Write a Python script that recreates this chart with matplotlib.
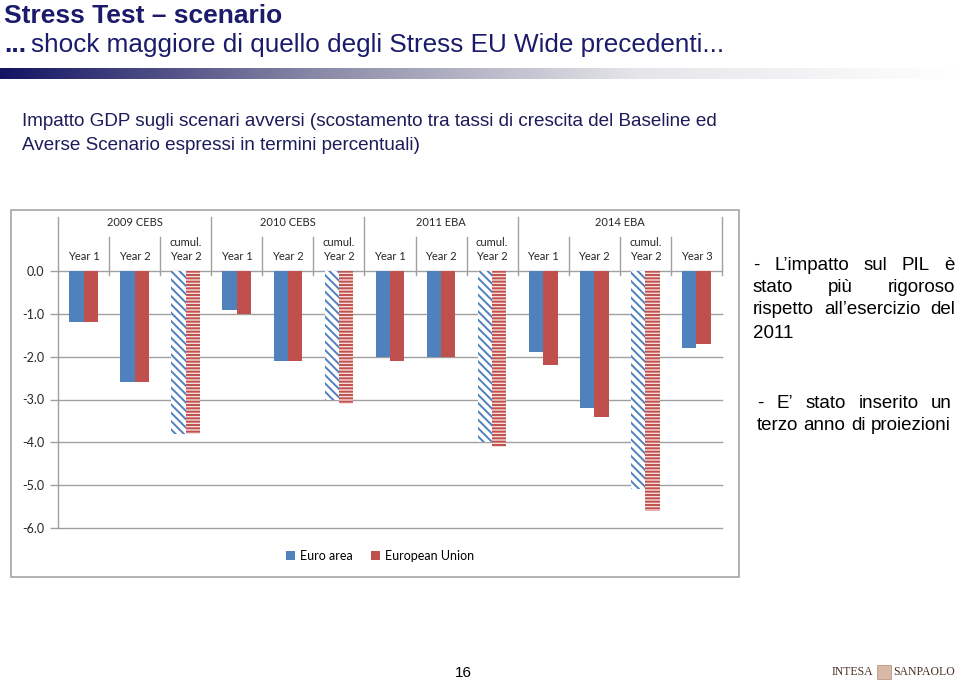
import numpy as np
import matplotlib.pyplot as plt
from matplotlib.patches import Patch, Rectangle

# Data (GDP impact, adverse vs baseline, percentage points)
groups = ['2009 CEBS', '2010 CEBS', '2011 EBA', '2014 EBA']
group_sizes = [3, 3, 3, 4]
categories = ['Year 1', 'Year 2', 'cumul.\nYear 2',
              'Year 1', 'Year 2', 'cumul.\nYear 2',
              'Year 1', 'Year 2', 'cumul.\nYear 2',
              'Year 1', 'Year 2', 'cumul.\nYear 2', 'Year 3']
euro_area = [-1.2, -2.6, -3.8, -0.9, -2.1, -3.0, -2.0, -2.0, -4.0, -1.9, -3.2, -5.1, -1.8]
european_union = [-1.2, -2.6, -3.8, -1.0, -2.1, -3.1, -2.1, -2.0, -4.1, -2.2, -3.4, -5.6, -1.7]
cumulative = [False, False, True, False, False, True, False, False, True, False, False, True, False]
y_ticks = [-6, -5, -4, -3, -2, -1, 0]

BLUE = '#4f81bd'
RED = '#c0504d'
NAVY = '#1b1b6b'
GRID = '#a0a0a0'

plt.rcParams['axes.unicode_minus'] = False
plt.rcParams['hatch.linewidth'] = 1.4

W, H = 960, 684
fig = plt.figure(figsize=(W / 100, H / 100), dpi=100)


def fx(x):
    return x / W


def fy(y):
    return 1 - y / H


# slide header
fig.text(fx(4), fy(16), 'Stress Test \u2013 scenario', fontsize=19, fontweight='bold',
         color=NAVY, family='Liberation Sans', va='center', ha='left')
fig.text(fx(4), fy(45), '...', fontsize=19, fontweight='bold', color=NAVY,
         family='Liberation Sans', va='center', ha='left')
fig.text(fx(31), fy(45), 'shock maggiore di quello degli Stress EU Wide precedenti...',
         fontsize=18.8, color=NAVY, family='Liberation Sans', va='center', ha='left')

# gradient band under the title
gax = fig.add_axes([0, fy(79), 1, (79 - 68) / H])
grad = np.linspace(0, 1, 512)
cmap = plt.matplotlib.colors.LinearSegmentedColormap.from_list(
    'band', ['#141464', '#8a8aa8', '#e6e6ea', '#ffffff'])
gax.imshow(grad[np.newaxis, :], aspect='auto', cmap=cmap, extent=[0, 1, 0, 1])
gax.axis('off')

fig.text(fx(22), fy(122), 'Impatto GDP sugli scenari avversi (scostamento tra tassi di crescita del Baseline ed',
         fontsize=13.6, color='#1c1c5a', family='Liberation Sans', va='center', ha='left')
fig.text(fx(22), fy(145), 'Averse Scenario espressi in termini percentuali)',
         fontsize=13.6, color='#1c1c5a', family='Liberation Sans', va='center', ha='left')

# chart frame
fig.patches.append(Rectangle((fx(11), fy(577)), (739 - 11) / W, (577 - 210) / H,
                             transform=fig.transFigure, fill=False,
                             edgecolor='#a6a6a6', linewidth=1.2))

# chart
ax = fig.add_axes([fx(58), fy(528), (722 - 58) / W, (528 - 271) / H])
x = np.arange(len(categories))
bw = 0.28
for i in x:
    if cumulative[i]:
        ax.bar(i - bw / 2, euro_area[i], bw, facecolor='white', edgecolor=BLUE,
               hatch='\\\\\\\\', linewidth=0, zorder=3)
        ax.bar(i + bw / 2, european_union[i], bw, facecolor='#f4dcdb', edgecolor=RED,
               hatch='-----', linewidth=0, zorder=3)
    else:
        ax.bar(i - bw / 2, euro_area[i], bw, color=BLUE, zorder=3)
        ax.bar(i + bw / 2, european_union[i], bw, color=RED, zorder=3)

ax.set_xlim(-0.5, len(categories) - 0.5)
ax.set_ylim(-6, 0)
ax.set_yticks(y_ticks)
ax.set_yticklabels([f'{v:.1f}' for v in y_ticks],
                   fontsize=9, family='Lato', color='#262626')
ax.set_xticks([])
ax.tick_params(axis='y', length=6, color=GRID, width=1, pad=4)
for v in y_ticks:
    ax.axhline(v, color=GRID, linewidth=1, zorder=0, clip_on=False)
for s in ax.spines.values():
    s.set_visible(False)

# category header with separators
px = 1 / 42.83
top_tall = 54 * px
top_short = 34 * px
bottom = -4 * px
ax.plot([-0.5, -0.5], [-6, top_tall], color=GRID, lw=1, clip_on=False)
start = 0
for g, n in zip(groups, group_sizes):
    ax.text(start + (n - 1) / 2, 48 * px, g, ha='center', va='center',
            fontsize=8, family='Lato', color='#262626', clip_on=False)
    for k in range(1, n):
        ax.plot([start + k - 0.5] * 2, [bottom, top_short], color=GRID, lw=1, clip_on=False)
    start += n
    ax.plot([start - 0.5] * 2, [bottom, top_tall], color=GRID, lw=1, clip_on=False)

for i, c in enumerate(categories):
    lines = c.split('\n')
    if len(lines) == 2:
        ax.text(i, 28 * px, lines[0], ha='center', va='center', fontsize=8,
                family='Lato', color='#262626', clip_on=False)
    ax.text(i, 14 * px, lines[-1], ha='center', va='center', fontsize=8,
            family='Lato', color='#262626', clip_on=False)

handles = [Patch(facecolor=BLUE, label='Euro area'),
           Patch(facecolor=RED, label='European Union')]
leg = fig.legend(handles=handles, loc='center', bbox_to_anchor=(fx(380), fy(556)),
                 ncol=2, frameon=False, handlelength=0.7, handleheight=0.7,
                 handletextpad=0.4, columnspacing=1.5,
                 prop={'family': 'Lato', 'size': 9})

# justified side notes
renderer = fig.canvas.get_renderer()
NOTE_SIZE = 13.5


def justified_line(words, x0, x1, y, justify=True):
    texts = [fig.text(0, fy(y), w, fontsize=NOTE_SIZE, family='Liberation Sans',
                      va='center', ha='left', color='black') for w in words]
    widths = [t.get_window_extent(renderer).width for t in texts]
    if justify and len(words) > 1:
        gap = (x1 - x0 - sum(widths)) / (len(words) - 1)
    else:
        gap = NOTE_SIZE * 100 / 72 * 0.28
    pos = x0
    for t, w in zip(texts, widths):
        t.set_x(fx(pos))
        pos += w + gap


justified_line(['-', 'L\u2019impatto', 'sul', 'PIL', '\u00e8'], 753, 955, 265)
justified_line(['stato', 'pi\u00f9', 'rigoroso'], 753, 955, 288)
justified_line(['rispetto', 'all\u2019esercizio', 'del'], 753, 955, 310)
justified_line(['2011'], 753, 955, 333, justify=False)
justified_line(['-', 'E\u2019', 'stato', 'inserito', 'un'], 757, 952, 403)
justified_line(['terzo', 'anno', 'di', 'proiezioni'], 757, 952, 425, justify=False)

# footer
fig.text(fx(463), fy(673), '16', fontsize=11, family='Liberation Sans',
         ha='center', va='center', color='black')
fig.text(fx(873), fy(672), 'INTESA', fontsize=8.5, family='Liberation Serif',
         ha='right', va='center', color='#4a2f25')
fig.patches.append(Rectangle((fx(877), fy(679)), 14 / W, 14 / H, transform=fig.transFigure,
                             facecolor='#d8b9a6', edgecolor='#b08a78', linewidth=0.5))
fig.text(fx(955), fy(672), 'SANPAOLO', fontsize=8.5, family='Liberation Serif',
         ha='right', va='center', color='#4a2f25')

fig.savefig('out.png', dpi=100)
